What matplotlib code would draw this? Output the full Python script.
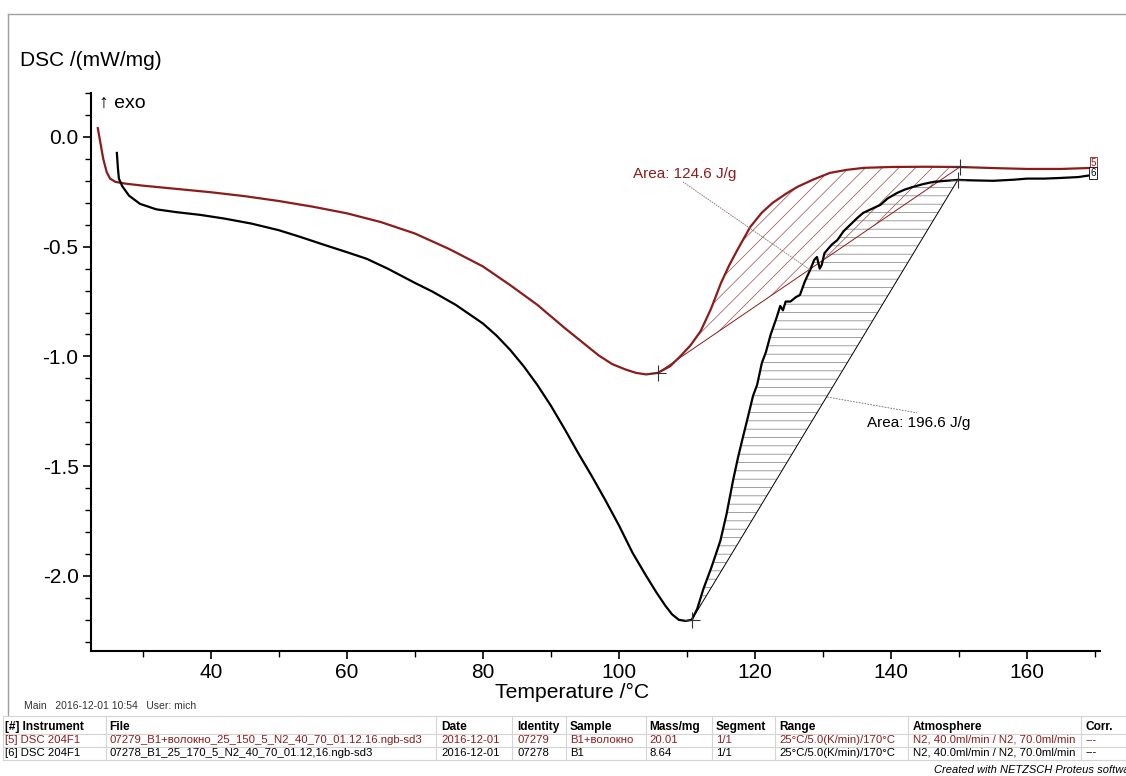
import matplotlib
matplotlib.use("Agg")
import matplotlib.pyplot as plt
import numpy as np
from matplotlib.lines import Line2D
from matplotlib.ticker import MultipleLocator, FormatStrFormatter

plt.rcParams["font.family"] = ["Liberation Sans", "DejaVu Sans"]
plt.rcParams["axes.unicode_minus"] = False
plt.rcParams["hatch.linewidth"] = 0.5

# sample [5]: B1 + fibre
temp_5 = [23.4, 23.8, 24.2, 24.7, 25.2, 26.0, 27.5, 30.0, 35.0, 40.0, 45.0, 50.0,
          55.0, 60.0, 65.0, 70.0, 75.0, 80.0, 84.0, 88.0, 92.0, 95.0, 97.0, 99.0,
          101.0, 102.5, 104.0, 105.7, 107.5, 109.0, 110.5, 112.0, 113.5, 115.0,
          116.2, 117.4, 119.3, 121.0, 122.6, 124.5, 126.2, 128.5, 131.0, 133.5,
          136.0, 140.0, 145.0, 150.1, 155.0, 160.0, 165.0, 169.7]
dsc_5 = [0.04, -0.03, -0.10, -0.16, -0.19, -0.205, -0.213, -0.222, -0.237, -0.252,
         -0.270, -0.292, -0.318, -0.348, -0.388, -0.440, -0.510, -0.590, -0.675,
         -0.765, -0.87, -0.945, -0.995, -1.035, -1.06, -1.075, -1.082, -1.075,
         -1.045, -1.00, -0.95, -0.885, -0.785, -0.665, -0.585, -0.515, -0.41,
         -0.345, -0.30, -0.26, -0.228, -0.195, -0.164, -0.15, -0.141, -0.137,
         -0.136, -0.137, -0.142, -0.146, -0.146, -0.141]

# sample [6]: B1
temp_6 = [26.2, 26.35, 26.5, 27.0, 28.0, 29.6, 32.0, 35.0, 38.4, 42.0, 46.0, 50.0,
          53.1, 57.0, 60.0, 62.9, 66.0, 70.0, 72.6, 76.0, 80.0, 82.0, 84.0, 86.0,
          88.0, 90.0, 92.0, 94.0, 96.0, 98.0, 100.0, 102.0, 104.0, 105.5, 106.8,
          107.8, 108.8, 109.8, 110.7, 111.5, 112.4, 113.6, 114.9, 115.8, 116.8,
          117.5, 118.2, 119.0, 119.7, 120.3, 121.0, 121.6, 122.3, 123.2, 123.7,
          124.1, 124.5, 125.2, 126.0, 126.6, 127.3, 128.1, 128.7, 129.1, 129.5,
          129.8, 130.2, 130.6, 131.3, 132.1, 133.0, 134.0, 135.0, 135.9, 137.0,
          138.4, 139.5, 140.9, 142.0, 143.2, 144.7, 146.2, 148.0, 149.7, 152.0,
          155.0, 158.0, 160.0, 162.5, 164.9, 167.5, 169.7]
dsc_6 = [-0.073, -0.14, -0.19, -0.225, -0.268, -0.305, -0.330, -0.343, -0.355,
         -0.372, -0.395, -0.425, -0.455, -0.495, -0.525, -0.555, -0.600, -0.665,
         -0.705, -0.765, -0.850, -0.905, -0.97, -1.045, -1.13, -1.225, -1.33,
         -1.44, -1.545, -1.655, -1.77, -1.895, -2.0, -2.075, -2.135, -2.175, -2.20,
         -2.205, -2.20, -2.15, -2.06, -1.96, -1.84, -1.72, -1.56, -1.46, -1.37,
         -1.27, -1.18, -1.13, -1.03, -0.98, -0.90, -0.82, -0.77, -0.79, -0.75,
         -0.75, -0.73, -0.72, -0.66, -0.606, -0.56, -0.547, -0.60, -0.583, -0.53,
         -0.515, -0.49, -0.47, -0.43, -0.40, -0.37, -0.346, -0.33, -0.31, -0.28,
         -0.255, -0.24, -0.228, -0.215, -0.205, -0.200, -0.196, -0.198, -0.200,
         -0.195, -0.190, -0.190, -0.187, -0.183, -0.173]

# integration limits (T, DSC) and peak areas
limits_5_t = [105.7, 150.1]
limits_5_y = [-1.075, -0.137]
limits_6_t = [110.7, 149.8]
limits_6_y = [-2.20, -0.196]
area_5 = "Area: 124.6 J/g"
area_6 = "Area: 196.6 J/g"

table_header = ["[#] Instrument", "File", "Date", "Identity", "Sample", "Mass/mg",
                "Segment", "Range", "Atmosphere", "Corr."]
table_row_5 = ["[5] DSC 204F1", "07279_B1+волокно_25_150_5_N2_40_70_01.12.16.ngb-sd3",
               "2016-12-01", "07279", "B1+волокно", "20.01", "1/1",
               "25°C/5.0(K/min)/170°C", "N2, 40.0ml/min / N2, 70.0ml/min", "---"]
table_row_6 = ["[6] DSC 204F1", "07278_B1_25_170_5_N2_40_70_01.12,16.ngb-sd3",
               "2016-12-01", "07278", "B1", "8.64", "1/1",
               "25°C/5.0(K/min)/170°C", "N2, 40.0ml/min / N2, 70.0ml/min", "---"]

RED = "#8c1c1c"
W, H = 1126, 776


def fx(px):
    return px / W


def fy(py):
    return 1 - py / H


fig = plt.figure(figsize=(W / 100, H / 100), dpi=100)
ax = fig.add_axes([fx(91), fy(651), (1100 - 91) / W, (651 - 93) / H])

t5, y5 = np.array(temp_5), np.array(dsc_5)
t6, y6 = np.array(temp_6), np.array(dsc_6)

# hatched peak areas between curve and baseline
m5 = (t5 >= limits_5_t[0]) & (t5 <= limits_5_t[1])
base5 = np.interp(t5[m5], limits_5_t, limits_5_y)
ax.fill_between(t5[m5], y5[m5], base5, facecolor="none", edgecolor="#9a4a4a",
                hatch="//", linewidth=0)
m6 = (t6 >= limits_6_t[0]) & (t6 <= limits_6_t[1])
base6 = np.interp(t6[m6], limits_6_t, limits_6_y)
ax.fill_between(t6[m6], y6[m6], base6, facecolor="none", edgecolor="#7a7a7a",
                hatch="--", linewidth=0)

ax.plot(limits_5_t, limits_5_y, color=RED, lw=0.7)
ax.plot(limits_6_t, limits_6_y, color="black", lw=0.7)

ax.plot(t5, y5, color=RED, lw=1.6)
ax.plot(t6, y6, color="black", lw=1.6)

ax.plot(limits_5_t, limits_5_y, ls="none", marker="+", ms=11, mew=0.8, color="#333333")
ax.plot(limits_6_t, limits_6_y, ls="none", marker="+", ms=11, mew=0.8, color="#333333")

# area labels with leader lines
ax.text(102.1, -0.169, area_5, color=RED, fontsize=11, ha="left", va="center")
ax.plot([109.4, 128.1], [-0.205, -0.606], color="#8a7070", lw=0.6, ls=(0, (2, 1)))
ax.text(136.5, -1.303, area_6, color="black", fontsize=11, ha="left", va="center")
ax.plot([130.6, 143.8], [-1.185, -1.257], color="#666666", lw=0.6, ls=(0, (2, 1.5)))

# curve tags at the right end
ax.text(169.7, -0.118, "5", color=RED, fontsize=7, ha="center", va="center",
        bbox=dict(boxstyle="square,pad=0.1", fc="white", ec=RED, lw=0.6))
ax.text(169.7, -0.165, "6", color="black", fontsize=7, ha="center", va="center",
        bbox=dict(boxstyle="square,pad=0.1", fc="white", ec="black", lw=0.6))

ax.set_xlim(22.4, 170.7)
ax.set_ylim(-2.342, 0.20)
ax.spines["top"].set_visible(False)
ax.spines["right"].set_visible(False)
ax.spines["left"].set_linewidth(1.5)
ax.spines["bottom"].set_linewidth(1.5)
ax.xaxis.set_major_locator(MultipleLocator(20))
ax.xaxis.set_minor_locator(MultipleLocator(10))
ax.yaxis.set_major_locator(MultipleLocator(0.5))
ax.yaxis.set_minor_locator(MultipleLocator(0.1))
ax.yaxis.set_major_formatter(FormatStrFormatter("%.1f"))
ax.tick_params(which="major", direction="out", length=6, width=1.2, labelsize=15, pad=3)
ax.tick_params(which="minor", direction="out", length=4, width=1.0)

fig.text(fx(572), fy(692), "Temperature /°C", fontsize=15.2, ha="center", va="center")
fig.text(fx(20), fy(60), "DSC /(mW/mg)", fontsize=15, ha="left", va="center")
fig.text(fx(99), fy(103), "↑ exo", fontsize=14, ha="left", va="center")

# frame
fig.add_artist(Line2D([fx(8), fx(1126)], [fy(14), fy(14)], color="#a0a0a0", lw=1))
fig.add_artist(Line2D([fx(8), fx(8)], [fy(14), fy(716)], color="#a0a0a0", lw=1))

# info table
fig.text(fx(24), fy(706), "Main   2016-12-01 10:54   User: mich", fontsize=7.5,
         ha="left", va="center", color="#333333")
col_x = [5, 109, 441, 517, 570, 649, 716, 779, 913, 1086]
sep_x = [106, 436, 512, 566, 646, 712, 775, 908, 1081]
row_y = [727, 740, 752.5]
for py in [716, 733.5, 746.5, 759.5]:
    fig.add_artist(Line2D([fx(3), fx(1126)], [fy(py), fy(py)], color="#d4d4d4", lw=0.8))
for px in sep_x:
    fig.add_artist(Line2D([fx(px), fx(px)], [fy(716), fy(759.5)], color="#d4d4d4", lw=0.8))
fig.add_artist(Line2D([fx(3), fx(3)], [fy(716), fy(759.5)], color="#d4d4d4", lw=0.8))

for cells, py, color, weight, size in [(table_header, row_y[0], "black", "bold", 8.6),
                                       (table_row_5, row_y[1], RED, "normal", 8.2),
                                       (table_row_6, row_y[2], "black", "normal", 8.2)]:
    for px, txt in zip(col_x, cells):
        fig.text(fx(px), fy(py), txt, fontsize=size, ha="left", va="center",
                 color=color, fontweight=weight)

fig.text(fx(1140), fy(770), "Created with NETZSCH Proteus software", fontsize=8,
         style="italic", ha="right", va="center")

fig.savefig("out.png", dpi=100)
